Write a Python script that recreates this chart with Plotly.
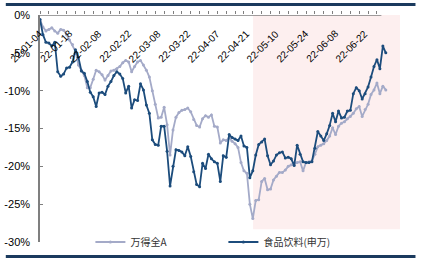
import plotly.graph_objects as go

# trading-day index labels (every 10 trading days)
tick_labels = ["22-01-04", "22-01-18", "22-02-08", "22-02-22", "22-03-08", "22-03-22",
               "22-04-07", "22-04-21", "22-05-10", "22-05-24", "22-06-08", "22-06-22"]
tick_positions = [0, 10, 20, 30, 40, 50, 60, 70, 80, 90, 100, 110]

series_names = ["万得全A", "食品饮料(申万)"]

# cumulative return (%) since start of 2022, one value per trading day
wind_all_a = [
    -0.6, -1.6, -2.1, -1.9, -1.7, -2.1, -2.4, -1.9, -2.0, -2.6,
    -3.3, -3.9, -4.8, -6.6, -7.3, -8.0, -9.6, -9.6, -8.5, -7.3,
    -7.5, -7.9, -8.6, -8.0, -7.4, -7.3, -7.1, -6.8, -6.3, -6.0,
    -6.2, -7.5, -6.8, -6.2, -6.0, -6.6, -7.3, -8.2, -10.0, -11.8,
    -13.6, -13.5, -12.2, -14.5, -18.5, -15.2, -13.5, -12.9, -12.6, -12.5,
    -12.3, -12.8, -13.8, -14.6, -14.8, -13.7, -13.3, -13.5, -13.2, -14.7,
    -14.8, -16.9, -16.5, -16.6, -16.2, -16.7, -17.0, -17.5, -19.5, -20.6,
    -20.9, -25.0, -26.9, -24.5, -24.4, -22.0, -21.6, -23.1, -23.0, -21.8,
    -21.3, -20.8, -20.8, -20.5, -20.0, -19.8, -19.6, -19.5, -19.4, -20.6,
    -19.5, -19.4, -19.3, -18.4, -17.4, -17.2, -17.0, -16.6, -16.0, -14.9,
    -15.8, -14.7, -14.3, -14.1, -13.7, -13.4, -13.0, -12.4, -12.1, -13.4,
    -12.5, -11.8, -10.5, -9.9, -9.0, -10.4, -9.4, -9.9,
]

food_beverage = [
    -0.6, -2.6, -3.6, -3.7, -4.1, -3.6, -7.5, -8.1, -7.8, -7.0,
    -6.9, -6.2, -4.6, -5.6, -7.4, -7.7, -8.8, -10.2, -10.8, -12.1,
    -10.3, -10.2, -10.5, -9.4, -8.8, -8.0, -7.5, -7.8, -8.4, -10.3,
    -9.4, -12.3, -11.2, -11.3, -9.1, -9.9, -11.9, -13.0, -16.5, -17.1,
    -17.2, -14.7, -14.7, -18.0, -22.6, -20.0, -17.8, -17.9, -18.1, -18.6,
    -17.4, -18.7, -20.7, -22.4, -22.7, -19.6, -20.3, -18.4, -19.0, -19.4,
    -19.6, -22.0, -18.6, -18.8, -15.8, -16.2, -16.4, -16.6, -16.0, -17.3,
    -17.5, -21.5, -20.6, -18.5, -17.1, -16.8, -16.4, -18.6, -19.8, -19.3,
    -18.5, -18.2, -18.1, -18.9, -18.8, -19.0, -19.9, -17.2, -18.4, -19.4,
    -19.5, -19.5, -19.4, -17.6, -15.4, -16.0, -16.6, -15.7, -14.6, -13.0,
    -14.1, -12.7, -13.6, -13.5, -12.7, -12.6, -10.4, -9.6, -10.0, -11.1,
    -10.4, -9.5, -8.2, -6.8, -5.9, -7.1, -4.1, -5.0,
]

y_tick_values = [0, -5, -10, -15, -20, -25, -30]
y_tick_text = ["0%", "-5%", "-10%", "-15%", "-20%", "-25%", "-30%"]

shade_start, shade_end, shade_bottom = 72.1, 121.8, -28.3

x_idx = list(range(len(wind_all_a)))

LIGHT = "#A4AAC8"
DARK = "#1C4C7C"

fig = go.Figure()
fig.add_trace(go.Scatter(
    x=x_idx, y=wind_all_a, name=series_names[0], mode="lines+markers",
    line=dict(color=LIGHT, width=1.8), marker=dict(size=3, color=LIGHT),
    cliponaxis=False))
fig.add_trace(go.Scatter(
    x=x_idx, y=food_beverage, name=series_names[1], mode="lines+markers",
    line=dict(color=DARK, width=1.8), marker=dict(size=3, color=DARK),
    cliponaxis=False))

# shaded period
fig.add_shape(type="rect", xref="x", yref="y", x0=shade_start, x1=shade_end,
              y0=shade_bottom, y1=0, fillcolor="#FDEFEF", line_width=0, layer="below")
# x axis line (ends at data end)
fig.add_shape(type="line", xref="x", yref="y", x0=0, x1=115.5, y0=0, y1=0,
              line=dict(color="#7F7F7F", width=1.5))
# decorative top / bottom rules
fig.add_shape(type="line", xref="paper", yref="paper", x0=-0.095, x1=1.043,
              y0=(262 - 4.5 - 20) / 227, y1=(262 - 4.5 - 20) / 227,
              line=dict(color="#1B3A5E", width=3))
fig.add_shape(type="line", xref="paper", yref="paper", x0=-0.095, x1=1.043,
              y0=-(256.5 - 242) / 227, y1=-(256.5 - 242) / 227,
              line=dict(color="#1B3A5E", width=3))

# rotated date labels hanging below the top axis
for pos, lab in zip(tick_positions, tick_labels):
    fig.add_annotation(x=pos, y=0, xref="x", yref="y", text=lab, showarrow=False,
                       textangle=-45, xanchor="center", yanchor="middle",
                       xshift=-14, yshift=-31,
                       font=dict(family="Liberation Sans, Arial", size=10, color="#000000"))

fig.update_layout(
    width=422, height=262,
    margin=dict(l=40, r=22, t=15, b=20, autoexpand=False),
    paper_bgcolor="white", plot_bgcolor="white",
    font=dict(family="Liberation Sans, Arial", size=10, color="#000000"),
    showlegend=True,
    legend=dict(orientation="h", x=0.14, y=0.0, xanchor="left", yanchor="middle",
                bgcolor="rgba(0,0,0,0)", entrywidth=88,
                font=dict(family="Noto Sans CJK SC", size=10, color="#333333")),
    xaxis=dict(
        range=[0, 121.8], side="top", showline=False, showgrid=False, zeroline=False,
        tickmode="array", tickvals=list(range(0, 116, 3)), showticklabels=False,
        ticks="outside", ticklen=3, tickcolor="#7F7F7F",
    ),
    yaxis=dict(
        range=[-30, 0], showgrid=False, zeroline=False, showline=True,
        linecolor="#7F7F7F", linewidth=1.5,
        tickmode="array", tickvals=y_tick_values, ticktext=y_tick_text,
        ticks="inside", ticklen=3, tickcolor="#7F7F7F", ticklabelstandoff=6,
        tickfont=dict(size=11),
    ),
)

fig.write_html("out.html")
